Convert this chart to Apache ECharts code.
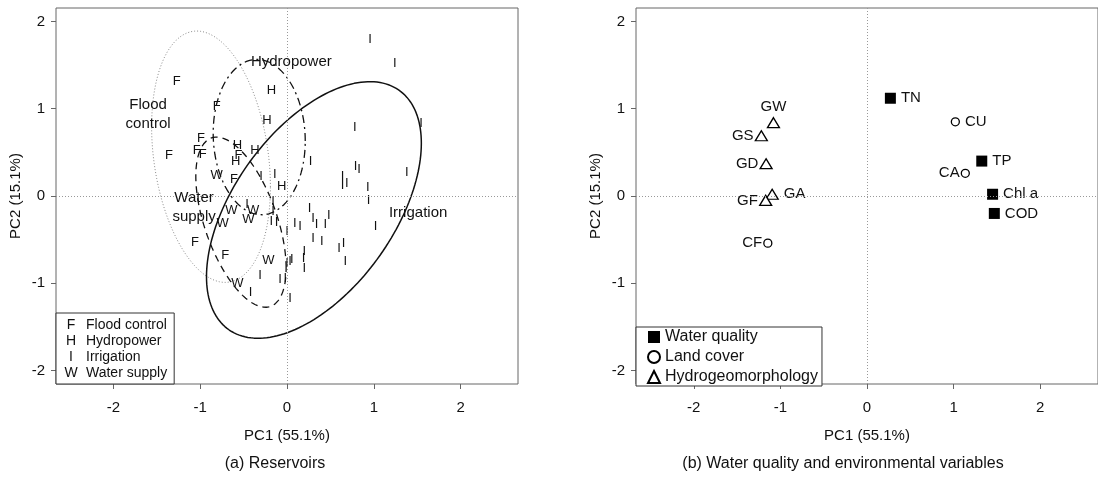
<!DOCTYPE html>
<html>
<head>
<meta charset="utf-8">
<title>PCA biplot</title>
<script src="https://cdn.jsdelivr.net/npm/echarts@6.0.0/dist/echarts.min.js"></script>
<style>
  html, body { margin: 0; padding: 0; background: #fff; }
  #chart { width: 1098px; height: 489px; }
</style>
</head>
<body>
<div id="chart"></div>
<script>
// (a) reservoir scores [PC1, PC2]
let floodControl = [
    [-1.27, 1.31], [-0.81, 1.03], [-0.99, 0.66], [-1.36, 0.47], [-1.04, 0.52],
    [-0.97, 0.48], [-0.56, 0.46], [-0.61, 0.19], [-1.06, -0.535], [-0.71, -0.68]
];
let hydropower = [
    [-0.18, 1.21], [-0.23, 0.87], [-0.57, 0.58], [-0.37, 0.52], [-0.59, 0.40], [-0.06, 0.11]
];
let waterSupply = [
    [-0.81, 0.235], [-0.64, -0.17], [-0.39, -0.16], [-0.74, -0.315], [-0.445, -0.27],
    [-0.215, -0.74], [-0.57, -1.0]
];
let irrigation = [
    [0.955, 1.795], [1.24, 1.52], [1.545, 0.83], [0.78, 0.79], [0.27, 0.40],
    [0.79, 0.34], [0.83, 0.30], [1.38, 0.27], [0.64, 0.23], [0.64, 0.12],
    [0.69, 0.14], [0.93, 0.10], [-0.30, 0.22], [-0.14, 0.25], [-0.46, -0.10],
    [-0.16, -0.065], [-0.16, -0.18], [-0.18, -0.29], [-0.12, -0.30], [0.0, -0.41],
    [0.09, -0.31], [0.15, -0.35], [0.26, -0.14], [0.30, -0.255], [0.34, -0.33],
    [0.44, -0.33], [0.48, -0.22], [0.30, -0.485], [0.40, -0.52], [0.94, -0.05],
    [1.02, -0.345], [0.60, -0.60], [0.65, -0.54], [0.67, -0.75], [0.20, -0.64],
    [0.20, -0.83], [0.19, -0.71], [0.0, -0.77], [0.035, -0.75], [0.055, -0.73],
    [0.035, -1.17], [-0.08, -0.96], [-0.02, -0.94], [-0.31, -0.905], [-0.42, -1.10]
];

// ellipses: centre, half-widths along PC1/PC2, correlation
let ellipseCenters = [[-0.875, 0.45], [-0.32, 0.675], [-0.53, -0.30], [0.31, -0.16]];
let ellipseHalfAxes = [[0.684, 1.44], [0.53, 0.89], [0.52, 0.975], [1.237, 1.47]];
let ellipseCorr = [-0.24, -0.05, -0.54, 0.52];
let ellipseLabels = ['Flood\ncontrol', 'Hydropower', 'Water\nsupply', 'Irrigation'];
let ellipseLabelAt = [[-1.6, 0.93], [0.05, 1.535], [-1.07, -0.125], [1.51, -0.19]];

// (b) variable loadings [PC1, PC2]
let wqNames = ['TN', 'TP', 'Chl a', 'COD'];
let wqValues = [[0.27, 1.12], [1.325, 0.40], [1.45, 0.02], [1.47, -0.20]];
let lcNames = ['CU', 'CA', 'CF'];
let lcValues = [[1.02, 0.85], [1.135, 0.26], [-1.145, -0.54]];
let hgNames = ['GW', 'GS', 'GD', 'GA', 'GF'];
let hgValues = [[-1.08, 0.84], [-1.22, 0.69], [-1.165, 0.37], [-1.095, 0.02], [-1.17, -0.05]];

let axisTicks = [-2, -1, 0, 1, 2];

const FONT = '"Liberation Sans", Arial, sans-serif';
const INK = '#111';
const AXIS_GREY = '#666';

let letterOf = {'Flood control': 'F', 'Hydropower': 'H', 'Irrigation': 'I', 'Water supply': 'W'};
let labelSide = {
    'TN': 'right', 'TP': 'right', 'Chl a': 'right', 'COD': 'right',
    'CU': 'right', 'CA': 'left', 'CF': 'left',
    'GW': 'top', 'GS': 'left', 'GD': 'left', 'GA': 'right', 'GF': 'left'
};
let ellipseStyles = [
    {color: '#8a8a8a', width: 1, type: [1, 2]},
    {color: INK, width: 1.3, type: [8, 4, 2, 4]},
    {color: INK, width: 1.3, type: [7, 5]},
    {color: INK, width: 1.5, type: 'solid'}
];

/**
 * outline of ellipse i as a closed polyline in data units
 */
function ellipsePoints(i) {
    let c = ellipseCenters[i], h = ellipseHalfAxes[i], r = ellipseCorr[i];
    let s = Math.sqrt(1 - r * r);
    let pts = [];
    for (let k = 0; k <= 180; k++) {
        let t = k / 180 * Math.PI * 2;
        pts.push([c[0] + h[0] * Math.cos(t), c[1] + h[1] * (r * Math.cos(t) + s * Math.sin(t))]);
    }
    return pts;
}

function xAxisFor(gridIndex, range) {
    return {
        type: 'value', gridIndex: gridIndex, min: -range, max: range,
        axisLine: {show: false, onZero: false},
        splitLine: {show: false},
        axisTick: {show: true, length: 5, customValues: axisTicks, lineStyle: {color: AXIS_GREY}},
        axisLabel: {customValues: axisTicks, margin: 16, color: INK, fontSize: 15, fontFamily: FONT},
        name: 'PC1 (55.1%)', nameLocation: 'middle', nameGap: 44,
        nameTextStyle: {color: INK, fontSize: 15, fontFamily: FONT}
    };
}

function yAxisFor(gridIndex) {
    return {
        type: 'value', gridIndex: gridIndex, min: -2.154, max: 2.154,
        axisLine: {show: false, onZero: false},
        splitLine: {show: false},
        axisTick: {show: true, length: 5, customValues: axisTicks, lineStyle: {color: AXIS_GREY}},
        axisLabel: {customValues: axisTicks, margin: 11, color: INK, fontSize: 15, fontFamily: FONT},
        name: 'PC2 (15.1%)', nameLocation: 'middle', nameGap: 33, nameRotate: 90,
        nameTextStyle: {color: INK, fontSize: 15, fontFamily: FONT}
    };
}

function zeroLines() {
    return {
        silent: true, symbol: 'none', animation: false,
        label: {show: false},
        lineStyle: {color: '#999', width: 1, type: [1, 2]},
        data: [{xAxis: 0}, {yAxis: 0}]
    };
}

function letterSeries(name, pts) {
    return {
        name: name, type: 'scatter', xAxisIndex: 0, yAxisIndex: 0, data: pts,
        symbol: 'circle', symbolSize: 1, z: 4,
        itemStyle: {color: 'rgba(0,0,0,0)', opacity: 1},
        label: {show: true, position: 'inside', formatter: letterOf[name], color: INK, fontSize: 13, fontFamily: FONT}
    };
}

function variableSeries(name, names, values, symbol, size, itemStyle) {
    let data = [];
    for (let i = 0; i < names.length; i++) {
        let side = labelSide[names[i]];
        data.push({
            name: names[i], value: values[i],
            label: {position: side, distance: side === 'left' ? 1 : (side === 'top' ? 3 : 5)}
        });
    }
    itemStyle.opacity = 1;
    return {
        name: name, type: 'scatter', xAxisIndex: 1, yAxisIndex: 1, data: data,
        symbol: symbol, symbolSize: size, itemStyle: itemStyle, z: 4,
        label: {show: true, formatter: '{b}', color: INK, fontSize: 15, fontFamily: FONT}
    };
}

let series = [];
// ellipses
for (let i = 0; i < ellipseCenters.length; i++) {
    series.push({
        name: 'ellipse' + i, type: 'line', xAxisIndex: 0, yAxisIndex: 0,
        data: ellipsePoints(i), showSymbol: false, symbol: 'none', silent: true, z: 2,
        lineStyle: ellipseStyles[i]
    });
}
// ellipse names
series.push({
    name: 'groupNames', type: 'scatter', xAxisIndex: 0, yAxisIndex: 0,
    data: ellipseLabelAt.map(function (p, i) { return {name: ellipseLabels[i], value: p}; }),
    symbol: 'circle', symbolSize: 1, itemStyle: {color: 'rgba(0,0,0,0)', opacity: 1}, z: 5,
    label: {show: true, position: 'inside', formatter: '{b}', color: INK, fontSize: 15, lineHeight: 19, fontFamily: FONT, align: 'center'},
    markLine: zeroLines()
});
series.push(letterSeries('Flood control', floodControl));
series.push(letterSeries('Hydropower', hydropower));
series.push(letterSeries('Irrigation', irrigation));
series.push(letterSeries('Water supply', waterSupply));

let wq = variableSeries('Water quality', wqNames, wqValues, 'rect', 11, {color: '#000'});
wq.markLine = zeroLines();
series.push(wq);
series.push(variableSeries('Land cover', lcNames, lcValues, 'circle', 8,
    {color: '#fff', borderColor: '#000', borderWidth: 1.3}));
series.push(variableSeries('Hydrogeomorphology', hgNames, hgValues, 'triangle', [12, 10],
    {color: '#fff', borderColor: '#000', borderWidth: 1.3}));

let option = {
    animation: false,
    backgroundColor: '#fff',
    textStyle: {fontFamily: FONT},
    grid: [
        {left: 56, top: 8, width: 462, height: 376, show: true, borderColor: AXIS_GREY, borderWidth: 1, backgroundColor: 'transparent'},
        {left: 636, top: 8, width: 464, height: 376, show: true, borderColor: AXIS_GREY, borderWidth: 1, backgroundColor: 'transparent'}
    ],
    xAxis: [xAxisFor(0, 2.66), xAxisFor(1, 2.667)],
    yAxis: [yAxisFor(0), yAxisFor(1)],
    legend: [
        {
            data: ['Flood control', 'Hydropower', 'Irrigation', 'Water supply'],
            orient: 'vertical', left: 56, top: 313,
            icon: 'none', itemWidth: 0, itemHeight: 14, itemGap: 2,
            padding: [5, 7, 4, 3],
            borderColor: '#333', borderWidth: 1, backgroundColor: '#fff',
            selectedMode: false,
            textStyle: {
                color: INK, fontSize: 14, lineHeight: 14, fontFamily: FONT,
                rich: {
                    k: {width: 14, align: 'center', padding: [0, 8, 0, 0], fontSize: 14, color: INK, fontFamily: FONT},
                    t: {fontSize: 14, color: INK, fontFamily: FONT}
                }
            },
            formatter: function (n) { return '{k|' + letterOf[n] + '}{t|' + n + '}'; }
        },
        {
            data: ['Water quality', 'Land cover', 'Hydrogeomorphology'],
            orient: 'vertical', left: 636, top: 327,
            itemWidth: 12, itemHeight: 12, itemGap: 4,
            padding: [2, 4, 1, 11],
            borderColor: '#333', borderWidth: 1, backgroundColor: '#fff',
            selectedMode: false,
            textStyle: {
                color: INK, fontSize: 16, fontFamily: FONT,
                rich: {t: {fontSize: 16, lineHeight: 15, height: 15, color: INK, fontFamily: FONT}}
            },
            formatter: function (n) { return '{t|' + n + '}'; }
        }
    ],
    graphic: [
        {type: 'text', x: 275, y: 464, style: {text: '(a) Reservoirs', fill: INK, font: '16px ' + FONT, align: 'center', verticalAlign: 'middle'}},
        {type: 'text', x: 843, y: 464, style: {text: '(b) Water quality and environmental variables', fill: INK, font: '16px ' + FONT, align: 'center', verticalAlign: 'middle'}}
    ],
    series: series
};

let myChart = echarts.init(document.getElementById('chart'));
myChart.setOption(option);
</script>
</body>
</html>
